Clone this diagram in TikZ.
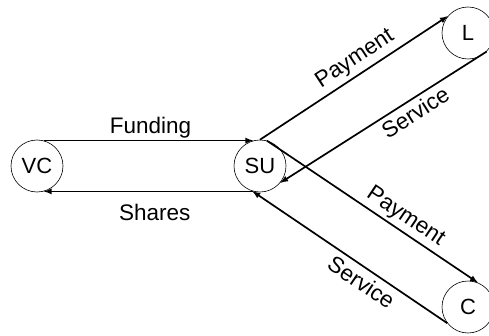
\documentclass[tikz,border=0pt]{standalone}
\usepackage{fontspec}
\setmainfont{Liberation Sans}
\usepackage{tikz}

\begin{document}
\begin{tikzpicture}[>=latex,node distance=223pt,
    party/.style={draw,circle,line width=0.6pt,minimum size=52pt,inner sep=0pt,font=\fontsize{22}{26}\selectfont},
    flow/.style={->,line width=1.7pt},
    tag/.style={font=\fontsize{22.5}{27}\selectfont,inner sep=2pt}]
      \useasboundingbox (0,0) rectangle (489pt,335pt);

      \node[party] (vc) at (37pt,169pt) {VC};
      \node[party] (su) [right of=vc] {SU};
      \node[party] (l) [right of=su,xshift=-15pt,yshift=133pt] {L};
      \node[party] (c) [right of=su,xshift=-15pt,yshift=-141pt] {C};

      \draw[flow] (vc.75) -- node[tag,above,pos=0.51] {Funding} (su.105);
      \draw[flow] (su.255) -- node[tag,below,yshift=-10pt,pos=0.47] {Shares} (vc.285);

      \draw[flow] (su.north) -- node[tag,above,sloped,inner sep=4pt,pos=0.55] {Payment} (l.140);
      \draw[flow] (l.315) -- node[tag,below,sloped,inner sep=4pt,pos=0.38] {Service} (su.320);

      \draw[flow] (su.75) -- node[tag,above,sloped,inner sep=3pt,pos=0.62] {Payment} (c.68);
      \draw[flow] (c.218) -- node[tag,below,sloped,inner sep=5pt,pos=0.40] {Service} (su.253);
\end{tikzpicture}
\end{document}
